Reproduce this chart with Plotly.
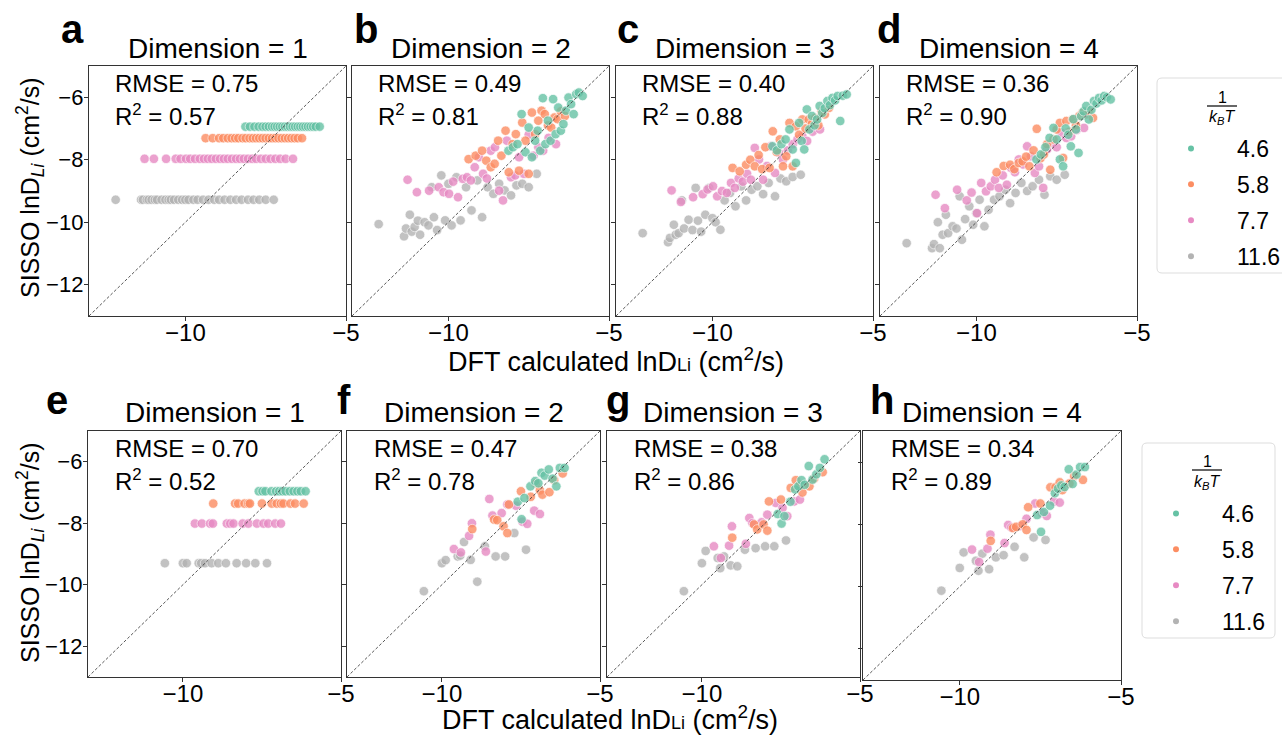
import plotly.graph_objects as go

# ---------------------------------------------------------------- data ----
TEMPS = ["4.6", "5.8", "7.7", "11.6"]          # 1/(kB T)
COLORS = ["#66c2a5", "#fc8d62", "#e78ac3", "#b3b3b3"]

# training set: DFT lnD for each 1/(kBT) group
train_x_46 = [-8.13, -7.99, -7.85, -7.72, -7.6, -7.5, -7.4, -7.3, -7.22, -7.14, -7.06, -6.98, -6.9,
              -6.82, -6.74, -6.66, -6.58, -6.5, -6.42, -6.34, -6.26, -6.18, -6.1, -6.02, -5.94, -5.82]
train_x_58 = [-9.37, -9.15, -8.95, -8.82, -8.68, -8.56, -8.45, -8.35, -8.22, -8.12, -8.0, -7.9, -7.8,
              -7.7, -7.6, -7.5, -7.4, -7.3, -7.2, -7.1, -7.0, -6.9, -6.8, -6.7, -6.6, -6.5, -6.37]
train_x_77 = [-11.27, -10.98, -10.6, -10.3, -10.15, -9.98, -9.85, -9.7, -9.55, -9.42, -9.3, -9.18,
              -9.05, -8.92, -8.8, -8.68, -8.55, -8.42, -8.3, -8.18, -8.05, -7.92, -7.8, -7.65, -7.5,
              -7.35, -7.2, -7.05, -6.88, -6.65]
train_x_116 = [-12.17, -11.38, -11.32, -11.2, -11.14, -11.05, -10.95, -10.88, -10.74, -10.62, -10.52,
               -10.45, -10.35, -10.22, -10.1, -10.0, -9.9, -9.75, -9.62, -9.45, -9.28, -9.1, -8.95,
               -8.78, -8.6, -8.42, -8.25, -8.05, -7.88, -7.7, -7.5, -7.25]

# SISSO predictions, training set
train_d1_levels = [-6.94, -7.31, -7.97, -9.28]
train_d2_46 = [-7.71, -7.6, -7.5, -6.54, -7.76, -6.97, -7.92, -7.39, -7.07, -7.71, -6.03, -7.5, -6.75,
               -7.39, -6.06, -7.18, -6.33, -7.07, -6.86, -6.43, -6.01, -6.22, -6.54, -5.9, -5.85, -5.96]
train_d3_46 = [-7.57, -7.7, -7.5, -7.35, -7.03, -7.67, -8.1, -6.82, -7.4, -7.67, -6.39, -7.03, -6.6,
               -6.9, -6.71, -6.28, -6.5, -6.35, -6.12, -6.25, -6.02, -6.1, -5.96, -6.76, -5.95, -5.91]
train_d4_46 = [-7.99, -7.83, -7.6, -7.3, -6.98, -7.35, -7.99, -8.21, -7.0, -7.2, -7.57, -6.7, -7.03,
               -7.78, -6.6, -6.45, -6.28, -6.71, -6.4, -6.12, -6.2, -6.02, -6.1, -5.96, -6.0, -6.07]
train_d2_58 = [-7.98, -7.87, -7.71, -8.03, -8.24, -8.13, -7.39, -7.87, -7.07, -8.4, -7.5, -7.18, -8.35,
               -6.81, -7.39, -8.45, -6.49, -7.18, -6.75, -6.43, -6.54, -6.9, -6.97, -6.65, -6.7, -6.45, -6.6]
train_d3_58 = [-8.26, -8.37, -8.16, -8.0, -8.21, -7.85, -8.3, -7.6, -8.26, -7.09, -7.75, -7.35, -8.21,
               -7.89, -6.82, -8.21, -6.93, -7.2, -6.71, -7.0, -6.71, -6.85, -6.66, -6.9, -6.45, -6.55, -6.34]
train_d4_58 = [-8.4, -8.2, -8.16, -8.3, -8.1, -8.05, -7.9, -8.21, -7.7, -7.01, -7.95, -7.83, -7.5,
               -8.32, -7.35, -7.03, -6.82, -7.94, -6.76, -7.1, -6.71, -6.9, -6.6, -6.5, -6.55, -6.44, -6.66]
train_d2_77 = [-8.64, -9.04, -8.99, -8.88, -9.04, -9.09, -8.7, -9.2, -8.61, -8.56, -8.66, -8.24, -7.92,
               -8.45, -8.6, -7.71, -7.6, -8.99, -9.3, -7.39, -8.56, -8.5, -7.92, -8.45, -7.2, -7.87,
               -7.6, -7.71, -7.3, -7.5]
train_d3_77 = [-8.98, -9.35, -9.2, -9.1, -8.95, -8.85, -9.17, -9.0, -9.06, -8.74, -8.9, -8.6, -8.7,
               -8.45, -8.64, -7.62, -7.99, -8.64, -8.2, -7.57, -8.42, -7.78, -8.0, -7.7, -7.5, -7.35,
               -7.25, -7.4, -7.1, -7.03]
train_d4_77 = [-9.12, -9.55, -8.96, -9.3, -9.05, -9.71, -8.74, -9.01, -8.85, -8.64, -8.9, -8.5, -8.8,
               -8.26, -8.4, -7.99, -8.15, -7.57, -7.89, -8.42, -8.21, -8.9, -7.67, -7.46, -7.6, -7.14,
               -7.3, -7.25, -7.05, -6.98]
train_d2_116 = [-10.06, -10.45, -10.2, -9.76, -10.3, -10.15, -9.95, -10.4, -10.0, -10.1, -8.88, -9.84,
                -10.25, -8.5, -9.94, -8.77, -10.1, -8.56, -9.94, -8.88, -9.62, -8.66, -9.84, -8.88,
                -9.09, -8.77, -8.98, -9.14, -8.82, -8.77, -8.88, -8.45]
train_d3_116 = [-10.35, -10.64, -10.5, -10.08, -10.4, -10.35, -9.3, -10.2, -9.92, -10.25, -8.9, -9.95,
                -10.3, -9.76, -8.9, -9.87, -10.0, -10.24, -9.3, -9.06, -9.49, -8.85, -9.3, -8.96,
                -8.85, -9.1, -8.74, -9.17, -8.6, -8.69, -8.55, -8.48]
train_d4_116 = [-10.67, -10.83, -10.7, -10.0, -10.83, -10.4, -9.76, -10.35, -10.13, -10.2, -9.17,
                -10.56, -9.9, -9.49, -10.08, -9.71, -9.28, -10.13, -9.6, -9.28, -9.17, -8.96, -9.39,
                -9.06, -8.74, -9.0, -8.85, -8.64, -9.12, -8.53, -8.64, -8.48]

# test set
test_x_46 = [-7.6, -7.48, -7.39, -7.2, -7.05, -6.95, -6.85, -6.75, -6.62, -6.5, -6.38, -6.27, -6.12]
test_x_58 = [-9.04, -8.35, -8.25, -8.05, -7.93, -7.88, -7.5, -7.19, -7.03, -6.9, -6.82, -6.6, -6.45, -6.18]
test_x_77 = [-9.62, -9.4, -9.14, -9.05, -8.61, -8.5, -8.4, -8.11, -7.93, -7.66, -7.45, -7.3, -7.08, -6.9]
test_x_116 = [-10.57, -10.0, -9.88, -9.5, -9.42, -9.3, -9.09, -8.88, -8.64, -8.3, -8.0, -7.71, -7.34]

test_d1_levels = [-6.96, -7.36, -8.01, -9.30]
test_d2_46 = [-7.3, -7.87, -7.18, -6.8, -6.63, -6.7, -6.36, -6.45, -6.25, -6.55, -6.8, -6.2, -6.2]
test_d3_46 = [-7.7, -8.01, -7.77, -7.3, -6.9, -6.8, -6.6, -6.75, -6.14, -6.58, -6.41, -6.2, -5.92]
test_d4_46 = [-7.7, -8.24, -7.6, -7.4, -7.0, -6.85, -6.75, -6.8, -6.23, -6.7, -6.4, -6.16, -6.16]
test_d2_58 = [-8.19, -7.88, -7.9, -8.1, -8.32, -7.39, -6.96, -7.14, -6.71, -6.93, -7.07, -6.99, -6.6, -6.38]
test_d3_58 = [-8.47, -8.04, -8.2, -8.04, -8.24, -7.29, -7.23, -6.85, -6.6, -6.75, -7.0, -6.8, -6.55, -6.34]
test_d4_58 = [-8.53, -8.12, -8.08, -8.0, -8.18, -7.45, -7.33, -6.81, -6.81, -6.65, -6.9, -6.69, -6.45, -6.57]
test_d2_77 = [-8.84, -8.95, -8.41, -8.0, -8.92, -7.21, -7.75, -7.67, -7.39, -7.43, -7.95, -8.02, -7.59, -7.7]
test_d3_77 = [-8.75, -9.13, -8.73, -8.1, -8.67, -7.83, -8.0, -7.97, -7.72, -7.34, -7.5, -7.77, -7.29, -7.23]
test_d4_77 = [-8.81, -9.21, -8.78, -8.33, -8.6, -8.02, -8.1, -8.05, -7.82, -7.33, -7.64, -7.73, -7.27, -7.3]
test_d2_116 = [-10.21, -9.3, -9.2, -9.08, -9.05, -8.61, -9.19, -9.9, -8.75, -9.08, -9.08, -8.32, -8.86]
test_d3_116 = [-10.21, -9.3, -8.9, -9.13, -9.46, -9.08, -9.37, -9.4, -8.86, -8.81, -8.75, -8.75, -8.56]
test_d4_116 = [-10.13, -9.4, -8.9, -9.17, -9.49, -8.94, -9.44, -9.06, -8.99, -8.72, -9.06, -8.42, -8.5]

train_rmse = ["0.75", "0.49", "0.40", "0.36"]
train_r2 = ["0.57", "0.81", "0.88", "0.90"]
test_rmse = ["0.70", "0.47", "0.38", "0.34"]
test_r2 = ["0.52", "0.78", "0.86", "0.89"]

PANEL_LETTERS = ["a", "b", "c", "d", "e", "f", "g", "h"]
AX_RANGE = [-13, -5]
X_TICKS = [-10, -5]
Y_TICKS = [-12, -10, -8, -6]

# --------------------------------------------------------------- layout ---
W, H = 1282, 736
FONT = "Liberation Sans, Arial, Helvetica, sans-serif"
INK = "#000000"


def fx(px):
    return px / W


def fy(px):
    return 1 - px / H


# axes boxes in pixels: (left, right, top, bottom)
BOXES = [(89, 346, 66, 316), (352, 609, 66, 316), (616, 873, 66, 316), (880, 1137, 66, 316),
         (88, 341, 431, 677), (347, 600, 431, 677), (607, 860, 431, 677), (863, 1121, 431, 680)]

train_x = [train_x_46, train_x_58, train_x_77, train_x_116]
test_x = [test_x_46, test_x_58, test_x_77, test_x_116]
train_y = [
    [[lv] * len(xs) for lv, xs in zip(train_d1_levels, train_x)],
    [train_d2_46, train_d2_58, train_d2_77, train_d2_116],
    [train_d3_46, train_d3_58, train_d3_77, train_d3_116],
    [train_d4_46, train_d4_58, train_d4_77, train_d4_116],
]
test_y = [
    [[lv] * len(xs) for lv, xs in zip(test_d1_levels, test_x)],
    [test_d2_46, test_d2_58, test_d2_77, test_d2_116],
    [test_d3_46, test_d3_58, test_d3_77, test_d3_116],
    [test_d4_46, test_d4_58, test_d4_77, test_d4_116],
]

fig = go.Figure()
layout = dict(
    width=W, height=H, autosize=False,
    margin=dict(l=0, r=0, t=0, b=0, autoexpand=False),
    paper_bgcolor="white", plot_bgcolor="white",
    font=dict(family=FONT, color=INK, size=22),
    showlegend=True,
)
annotations = []
shapes = []

for k in range(8):
    n = k + 1
    row = k // 4
    dim = k % 4
    xs_all = train_x if row == 0 else test_x
    ys_all = (train_y if row == 0 else test_y)[dim]
    sfx = "" if n == 1 else str(n)
    xa, ya = "x" + sfx, "y" + sfx
    # draw the coldest group first so warmer groups sit on top
    for j in [3, 2, 1, 0]:
        fig.add_trace(go.Scatter(
            x=xs_all[j], y=ys_all[j], xaxis=xa, yaxis=ya, mode="markers",
            marker=dict(size=9.5, color=COLORS[j], opacity=0.8,
                        line=dict(color="white", width=0.7)),
            showlegend=False, hoverinfo="skip"))

    l, r, t, b = BOXES[k]
    axis_common = dict(range=AX_RANGE, showgrid=False, zeroline=False, showline=True,
                       mirror=True, linecolor="#333333", linewidth=1.3,
                       ticks="outside", ticklen=4, tickwidth=1.1, tickcolor="#333333")
    layout["xaxis" + sfx] = dict(domain=[fx(l), fx(r)], anchor=ya, tickvals=X_TICKS,
                                 tickfont=dict(size=24), ticklabelstandoff=-9, **axis_common)
    layout["yaxis" + sfx] = dict(domain=[fy(b), fy(t)], anchor=xa, tickvals=Y_TICKS,
                                 showticklabels=(dim == 0), ticklabelstandoff=-4,
                                 tickfont=dict(size=22, family="Liberation Sans Narrow, " + FONT),
                                 **axis_common)

    # y = x reference
    shapes.append(dict(type="line", xref=xa, yref=ya, x0=AX_RANGE[0], y0=AX_RANGE[0],
                       x1=AX_RANGE[1], y1=AX_RANGE[1],
                       line=dict(color="#444444", width=0.9, dash="3px,2px")))

    # title above each panel
    annotations.append(dict(text=f"Dimension = {dim + 1}", xref="paper", yref="paper",
                            x=fx((l + r) / 2), y=fy(t - 0.5), xanchor="center", yanchor="bottom",
                            showarrow=False, font=dict(size=28)))
    # error metrics
    rm = (train_rmse if row == 0 else test_rmse)[dim]
    r2 = (train_r2 if row == 0 else test_r2)[dim]
    dx = 0.095 if row == 0 else 0.1
    annotations.append(dict(text=f"RMSE = {rm}", xref=f"{xa} domain", yref="paper",
                            x=dx, y=fy(t + 33), xanchor="left", yanchor="bottom",
                            showarrow=False, font=dict(size=24)))
    annotations.append(dict(text=f"R<sup>2</sup> = {r2}", xref=f"{xa} domain", yref="paper",
                            x=dx, y=fy(t + 66), xanchor="left", yanchor="bottom",
                            showarrow=False, font=dict(size=24)))

# panel letters
LETTER_POS = [(72, 53), (366, 53), (628, 53), (889, 53),
              (57, 424), (344, 424), (618, 424), (882, 424)]
for letter, (px_, py_) in zip(PANEL_LETTERS, LETTER_POS):
    annotations.append(dict(text=f"<b>{letter}</b>", xref="paper", yref="paper",
                            x=fx(px_), y=fy(py_), xanchor="center", yanchor="bottom",
                            showarrow=False, font=dict(size=40)))

# shared axis titles
for yc in (188, 553):
    annotations.append(dict(text="SISSO lnD<sub><i>Li</i></sub> (cm<sup>2</sup>/s)",
                            xref="paper", yref="paper", x=fx(30), y=fy(yc), textangle=-90,
                            xanchor="center", yanchor="middle", showarrow=False,
                            font=dict(size=25)))
for (xc, yb) in ((616, 379), (610, 737)):
    annotations.append(dict(
        text="DFT calculated lnD<span style='font-size:18px'>Li</span> (cm<sup>2</sup>/s)",
        xref="paper", yref="paper", x=fx(xc), y=fy(yb),
        xanchor="center", yanchor="bottom", showarrow=False, font=dict(size=27)))

# legend frames with the 1/(kB T) heading
LEGEND_FRAMES = [(1157, 1292, 78, 273, 1222, 97, 106, 117),
                 (1142, 1275, 443, 638, 1207, 461, 470, 482)]
for (l, r, t, b, cx, y1, ybar, y2) in LEGEND_FRAMES:
    rad = 5
    path = (f"M {fx(l + rad)},{fy(t)} L {fx(r - rad)},{fy(t)} Q {fx(r)},{fy(t)} {fx(r)},{fy(t + rad)} "
            f"L {fx(r)},{fy(b - rad)} Q {fx(r)},{fy(b)} {fx(r - rad)},{fy(b)} "
            f"L {fx(l + rad)},{fy(b)} Q {fx(l)},{fy(b)} {fx(l)},{fy(b - rad)} "
            f"L {fx(l)},{fy(t + rad)} Q {fx(l)},{fy(t)} {fx(l + rad)},{fy(t)} Z")
    shapes.append(dict(type="path", xref="paper", yref="paper", path=path,
                       line=dict(color="#dddddd", width=1), fillcolor="white", layer="below"))
    shapes.append(dict(type="line", xref="paper", yref="paper", x0=fx(cx - 15), x1=fx(cx + 15),
                       y0=fy(ybar), y1=fy(ybar), line=dict(color=INK, width=1.2)))
    annotations.append(dict(text="1", xref="paper", yref="paper", x=fx(cx), y=fy(y1),
                            xanchor="center", yanchor="middle", showarrow=False,
                            font=dict(size=16)))
    annotations.append(dict(text="<i>k</i><sub><i>B</i></sub><i>T</i>", xref="paper", yref="paper",
                            x=fx(cx), y=fy(y2), xanchor="center", yanchor="middle",
                            showarrow=False, font=dict(size=16)))

# legend entries (one legend per row)
for leg in ("legend", "legend2"):
    for j in range(4):
        fig.add_trace(go.Scatter(
            x=[None], y=[None], xaxis="x", yaxis="y", mode="markers",
            marker=dict(size=6, color=COLORS[j]), legendgroup=f"{leg}-{j}",
            name=TEMPS[j], legend=leg, showlegend=True))

legend_common = dict(xanchor="left", yanchor="top", bgcolor="rgba(0,0,0,0)", borderwidth=0,
                     font=dict(size=23, family=FONT), itemclick=False, itemdoubleclick=False,
                     tracegroupgap=3, traceorder="grouped", itemsizing="trace", itemwidth=82)
layout["legend"] = dict(x=fx(1145), y=fy(127), **legend_common)
layout["legend2"] = dict(x=fx(1130), y=fy(492), **legend_common)

layout["annotations"] = annotations
layout["shapes"] = shapes
fig.update_layout(**layout)

fig.write_html("out.html")
